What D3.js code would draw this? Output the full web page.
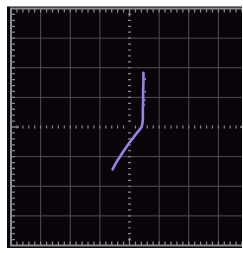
<!DOCTYPE html>
<html>
<head>
<meta charset="utf-8">
<script src="https://cdn.jsdelivr.net/npm/d3@7"></script>
<style>
  html, body { margin: 0; padding: 0; background: #fff; }
  svg { display: block; }
</style>
</head>
<body>
<div id="scope"></div>
<script>
// Trace, in divisions (centre = 0,0)
const traceX = [0.47, 0.47, 0.46, 0.46, 0.45, 0.45, 0.41, 0.33, 0.24, 0.13, 0.02, -0.10, -0.21, -0.32, -0.43, -0.51, -0.57];
const traceY = [1.83, 1.50, 1.20, 0.91, 0.55, 0.24, 0.01, -0.10, -0.21, -0.36, -0.50, -0.67, -0.83, -1.00, -1.17, -1.31, -1.43];

// little blips sticking out of the vertical part
const blipX = [0.53, 0.53, 0.52, 0.50];
const blipY = [1.62, 1.19, 0.91, 0.74];

const divisions = [-4, -3, -2, -1, 0, 1, 2, 3, 4];
const minorStep = 0.2;

const W = 243, H = 253;
const panel = { x: 7, y: 6.5, w: 235, h: 241.5 };
const box = { x: 11, y: 8.5, size: 237 };

const svg = d3.select("#scope").append("svg")
    .attr("width", W).attr("height", H);

svg.append("defs").append("clipPath").attr("id", "clip")
    .append("rect")
    .attr("x", panel.x).attr("y", panel.y)
    .attr("width", panel.w).attr("height", panel.h);

svg.append("rect")
    .attr("x", panel.x).attr("y", panel.y)
    .attr("width", panel.w).attr("height", panel.h)
    .attr("fill", "#09040a");

const g = svg.append("g").attr("clip-path", "url(#clip)");

const x = d3.scaleLinear().domain([-4, 4]).range([box.x, box.x + box.size]);
const y = d3.scaleLinear().domain([-4, 4]).range([box.y + box.size, box.y]);

// grille (le centre n'a que des graduations)
divisions.filter(d => d !== 0 && Math.abs(d) !== 4).forEach(d => {
    g.append("line")
        .attr("x1", x(d)).attr("x2", x(d))
        .attr("y1", y(4)).attr("y2", y(-4))
        .attr("stroke", "#524d56").attr("stroke-width", 1);
    g.append("line")
        .attr("y1", y(d)).attr("y2", y(d))
        .attr("x1", x(-4)).attr("x2", x(4))
        .attr("stroke", "#524d56").attr("stroke-width", 1);
});

// petites graduations
const minor = d3.range(-4 + minorStep, 4 - 1e-6, minorStep);
const tickCol = "#8a878d";

minor.forEach(v => {
    const len = Math.abs(v) < 1e-6 ? 8 : 4;
    // haut et bas
    g.append("line").attr("x1", x(v)).attr("x2", x(v))
        .attr("y1", y(4)).attr("y2", y(4) + len)
        .attr("stroke", tickCol).attr("stroke-width", 1.3);
    g.append("line").attr("x1", x(v)).attr("x2", x(v))
        .attr("y1", y(-4)).attr("y2", y(-4) - len)
        .attr("stroke", tickCol).attr("stroke-width", 1.3);
    // gauche et droite
    g.append("line").attr("y1", y(v)).attr("y2", y(v))
        .attr("x1", x(-4)).attr("x2", x(-4) + len)
        .attr("stroke", tickCol).attr("stroke-width", 1.3);
    g.append("line").attr("y1", y(v)).attr("y2", y(v))
        .attr("x1", x(4)).attr("x2", x(4) - len)
        .attr("stroke", tickCol).attr("stroke-width", 1.3);
    // axes centraux
    if (Math.abs(v) > 1e-6) {
        g.append("line").attr("x1", x(v)).attr("x2", x(v))
            .attr("y1", y(0) - 1.5).attr("y2", y(0) + 1.5)
            .attr("stroke", tickCol).attr("stroke-width", 1.2);
        g.append("line").attr("y1", y(v)).attr("y2", y(v))
            .attr("x1", x(0) - 1.5).attr("x2", x(0) + 1.5)
            .attr("stroke", tickCol).attr("stroke-width", 1.2);
    }
});

// cadre
g.append("rect")
    .attr("x", x(-4)).attr("y", y(4))
    .attr("width", x(4) - x(-4)).attr("height", y(-4) - y(4))
    .attr("fill", "none").attr("stroke", "#8e8b90").attr("stroke-width", 2);

// trace
const pts = traceX.map((v, i) => [v, traceY[i]]);

g.append("path")
    .datum(pts)
    .attr("d", d3.line().x(d => x(d[0])).y(d => y(d[1])).curve(d3.curveCatmullRom))
    .attr("fill", "none")
    .attr("stroke", "#9f80e8")
    .attr("stroke-width", 2.6)
    .attr("stroke-linecap", "round")
    .attr("stroke-linejoin", "round");

g.selectAll(".blip")
    .data(blipX.map((v, i) => [v, blipY[i]]))
    .enter().append("circle")
    .attr("cx", d => x(d[0])).attr("cy", d => y(d[1]))
    .attr("r", 0.9)
    .attr("fill", "#9f80e8");
</script>
</body>
</html>
